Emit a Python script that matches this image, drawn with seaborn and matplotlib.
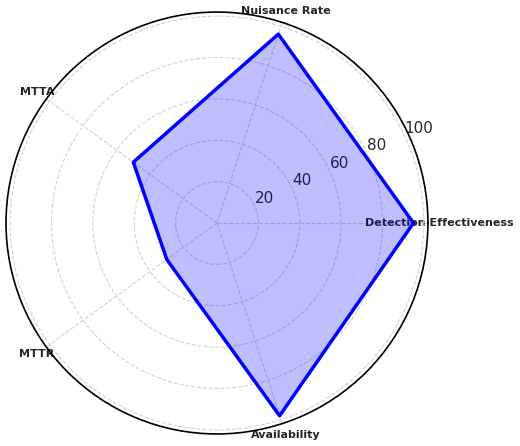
import numpy as np
import matplotlib
matplotlib.use("Agg")
import matplotlib.pyplot as plt
import seaborn as sns

sns.set_style("white")
plt.rcParams['font.family'] = ['DejaVu Sans']

categories = ["Detection Effectiveness", "Nuisance Rate", "MTTA", "MTTR", "Availability"]
values = [95, 96, 50, 30, 98]
rticks = [20, 40, 60, 80, 100]
rtick_labels = ["20", "40", "60", "80", "100"]

n = len(categories)
angles = np.linspace(0, 2 * np.pi, n, endpoint=False).tolist()
vals = values + values[:1]
angs = angles + angles[:1]

fig = plt.figure(figsize=(5.2, 4.46), dpi=100)
ax = fig.add_axes([0.0115, 0.027, 0.8115, 0.946], polar=True)
ax.fill(angs, vals, color="blue", alpha=0.25)
ax.plot(angs, vals, color="blue", linewidth=2.5)
ax.set_xticks(angles)
ax.set_xticklabels(categories, fontsize=8, fontweight="bold")
ax.tick_params(axis="x", pad=-2)
ax.set_ylim(0, 102)
ax.set_yticks(rticks)
ax.set_yticklabels(rtick_labels, fontsize=11)
ax.set_rlabel_position(25)
ax.grid(True, color="lightgray", linestyle="--", linewidth=0.8)
ax.spines["polar"].set_color("black")
ax.spines["polar"].set_linewidth(1.2)
fig.savefig("out.png", dpi=100)
